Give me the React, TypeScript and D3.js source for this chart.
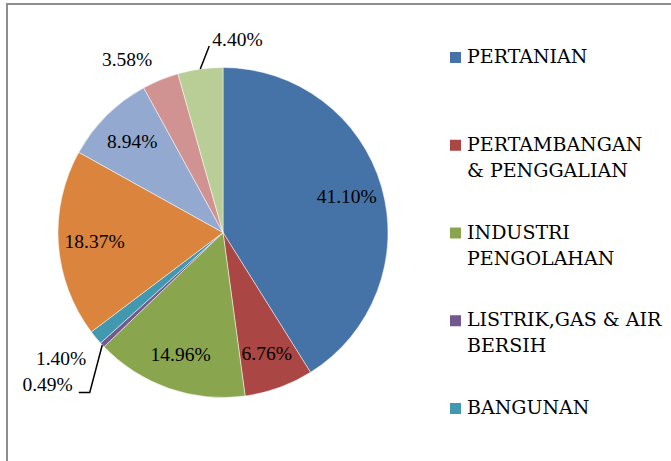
import React from "react";
import * as d3 from "d3";

// sectors, clockwise from 12 o'clock
const categories = [
  "PERTANIAN",
  "PERTAMBANGAN & PENGGALIAN",
  "INDUSTRI PENGOLAHAN",
  "LISTRIK,GAS & AIR BERSIH",
  "BANGUNAN",
  "PERDAGANGAN, HOTEL & RESTORAN",
  "PENGANGKUTAN & KOMUNIKASI",
  "KEUANGAN, PERSEWAAN & JASA PERUSAHAAN",
  "JASA-JASA",
];
const shares = [41.1, 6.76, 14.96, 0.49, 1.4, 18.37, 8.94, 3.58, 4.4];
const labelTexts = ["41.10%", "6.76%", "14.96%", "0.49%", "1.40%", "18.37%", "8.94%", "3.58%", "4.40%"];
// only the first five fit in the legend box
const legendLines = [["PERTANIAN"], ["PERTAMBANGAN", "& PENGGALIAN"], ["INDUSTRI", "PENGOLAHAN"], ["LISTRIK,GAS & AIR", "BERSIH"], ["BANGUNAN"]];

const colors = ["#4572A7", "#AA4643", "#89A54E", "#71588F", "#4198AF", "#DB843D", "#93A9CF", "#D19392", "#B9CD96"];
// how each data label is placed
const labelMode: Record<number, string> = { 3: "leaderDown", 4: "out", 7: "out", 8: "leaderUp" };

const W = 671, H = 461;
const cx = 223, cy = 232.5, R = 165;
const labelFont = "'Liberation Serif', serif";
const legendFont = "'DejaVu Serif', serif";
const labelSize = 19.5;

export default function App() {
  const pie = d3.pie<number>().sort(null).value((d) => d);
  const arcs = pie(shares);
  const arc = d3.arc<d3.PieArcDatum<number>>().innerRadius(0).outerRadius(R);
  const labelArc = d3.arc<d3.PieArcDatum<number>>().innerRadius(R * 0.78).outerRadius(R * 0.78);
  const outArc = d3.arc<d3.PieArcDatum<number>>().innerRadius(R * 1.13).outerRadius(R * 1.13);
  const edgeArc = d3.arc<d3.PieArcDatum<number>>().innerRadius(R).outerRadius(R);

  const legendX = 450, legendY0 = 63, legendStep = 87.75, lineH = 26;

  return (
    <svg width={W} height={H} style={{ position: "absolute", left: 0, top: 0 }}>
      <rect width={W} height={H} fill="#fff" />
      <path d={`M7,${H} L7,4 L${W},4`} fill="none" stroke="#8e8e8e" strokeWidth={2} />
      <g transform={`translate(${cx},${cy})`}>
        {arcs.map((a, i) => (
          <path key={categories[i]} d={arc(a) || ""} fill={colors[i]} stroke="#fff" strokeWidth={0.5} />
        ))}
        {arcs.map((a, i) => {
          const mode = labelMode[i];
          if (!mode) {
            const [x, y] = labelArc.centroid(a);
            return (
              <text key={i} x={x} y={y} textAnchor="middle" dominantBaseline="central"
                fontFamily={labelFont} fontSize={labelSize} fill="#000">{labelTexts[i]}</text>
            );
          }
          if (mode === "out") {
            const [x, y] = outArc.centroid(a);
            const nudge = i === 4 ? [7, 7] : [0, 0];
            return (
              <text key={i} x={x + nudge[0]} y={y + nudge[1]} textAnchor={x < 0 ? "end" : "start"}
                dominantBaseline="central" fontFamily={labelFont} fontSize={labelSize} fill="#000">{labelTexts[i]}</text>
            );
          }
          const [ex, ey] = edgeArc.centroid(a);
          if (mode === "leaderUp") {
            const tx = ex + 9, ty = ey - 23;
            return (
              <g key={i}>
                <path d={`M${ex},${ey} L${tx},${ty}`} stroke="#000" strokeWidth={1.5} fill="none" />
                <text x={tx + 3} y={ty} textAnchor="start" fontFamily={labelFont} fontSize={labelSize} fill="#000">{labelTexts[i]}</text>
              </g>
            );
          }
          const kx = ex - 12.5, ky = ey + 47.5;
          return (
            <g key={i}>
              <path d={`M${ex},${ey} L${kx},${ky} L${kx - 11},${ky}`} stroke="#000" strokeWidth={1.5} fill="none" />
              <text x={kx - 17} y={ky - 1} textAnchor="end" fontFamily={labelFont} fontSize={labelSize} fill="#000">{labelTexts[i]}</text>
            </g>
          );
        })}
      </g>
      <g>
        {legendLines.map((lines, i) => {
          const y = legendY0 + i * legendStep;
          return (
            <g key={i}>
              <rect x={legendX} y={y - 11} width={11} height={11} fill={colors[i]} />
              {lines.map((t, j) => (
                <text key={j} x={legendX + 17} y={y + j * lineH} fontFamily={legendFont} fontSize={19} fill="#000">{t}</text>
              ))}
            </g>
          );
        })}
      </g>
    </svg>
  );
}
